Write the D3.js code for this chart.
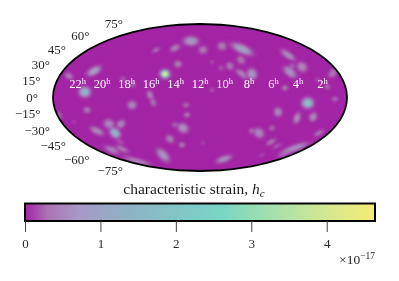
<!DOCTYPE html>
<html>
<head>
<meta charset="utf-8">
<script src="https://d3js.org/d3.v7.min.js"></script>
<style>
  html, body { margin: 0; padding: 0; background: #fff; }
  text { font-family: "Liberation Serif", serif; }
</style>
</head>
<body>
<div id="chart"></div>
<script>
// sources on the sky: right ascension (hours), declination (deg), peak strain (1e-17)
var blobRa = [13.15, 14.76, 16.71, 14.02, 15.02, 21.27, 23.19, 21.43, 18.49, 17.55, 16.08, 15.84, 17.58, 21.36, 13.15, 13.09, 13.52, 14.2, 14.97, 13.93, 16.85, 23.85, 22.9, 19.96, 18.91, 21.45, 19.92, 20.2, 22.26, 20.91, 22.2, 11.68, 9.49, 7.43, 8.11, 10.88, 10.13, 9.29, 8.38, 7.52, 3.2, 2.85, 3.68, 4.17, 5.0, 0.5, 2.1, 1.5, 3.18, 11.02, 0.98, 5.5, 3.75, 2.42, 7.23, 6.5, 5.54, 4.72, 3.63, 0.91, 1.33, 1.43, 3.87, 8.42, 11.69];
var blobDec = [60.6, 51.9, 49.6, 34, 23.6, 26.7, 21.5, 5.5, 18.5, 12.5, 2.5, -4.5, -7.5, -12.5, -7.5, -17.5, -30.9, -27.5, -42.7, -49.6, -62, -17.5, -24.6, -26.7, -26.7, -34, -36.2, -46.1, -55.5, -54.3, -70.3, 49.6, 54.3, 50.8, 38.3, 36.2, 29.8, 31.9, 23.6, 23.6, 43.8, 30.9, 31.9, 25.6, 9.5, 24.6, 17.5, 10.5, -5.5, 7.5, -1.5, -14.5, -20.5, -19.5, -34, -36.2, -30.9, -46.1, -50.8, -36.2, -53.1, -59.3, -62, -67.4, -47.2];
var blobStrain = [0.8, 0.45, 0.3, 0.4, 4.6, 1.0, 0.4, 1.6, 0.2, 0.25, 0.45, 0.4, 0.55, 0.4, 0.3, 0.4, 0.7, 0.3, 0.45, 0.4, 0.7, 0.3, 0.15, 0.55, 0.55, 0.55, 1.7, 0.2, 0.45, 0.4, 0.5, 0.4, 0.45, 1.0, 0.4, 0.2, 0.2, 0.4, 0.45, 0.8, 0.6, 0.55, 0.3, 0.7, 0.4, 0.4, 0.15, 0.3, 2.1, 0.2, 0.3, 0.55, 0.6, 0.6, 0.4, 0.55, 0.3, 0.4, 0.2, 0.4, 0.6, 0.45, 0.15, 0.6, 0.15];
// angular size of each source, degrees along its long and short axis, and tilt on the map
var blobMajor = [8, 6, 5, 4.5, 5, 8, 5, 6, 3.5, 3.5, 5, 5, 5, 4, 3.5, 3.5, 6, 3.5, 5, 3.5, 9, 4, 2.5, 6, 5, 8, 6, 5, 9, 8, 15, 5, 5, 12, 5, 2.5, 3.5, 4.5, 8, 6, 9, 6, 3.5, 8, 3.5, 6, 3.5, 3.5, 6, 3, 3.5, 5, 6, 5, 3.5, 6, 3.5, 6, 6, 6, 15, 8, 4, 9, 3];
var blobMinor = [5, 3.5, 2.5, 4, 4.5, 4, 3.5, 5.5, 3, 3, 3.5, 3, 4.5, 3.5, 3, 3, 5, 3, 4, 3, 4.5, 3, 2, 5, 4, 3.5, 4.5, 2.5, 3.5, 3, 3, 4.5, 4.5, 4.5, 4, 2, 3, 4, 3.5, 5, 3.5, 5, 3, 4.5, 3, 4, 3, 3, 5.5, 2.5, 3, 4.5, 3.5, 4, 3, 5, 3, 2.5, 2.5, 2.5, 3.5, 3, 2, 3.5, 2];
var blobTilt = [0, -30, -25, 0, 0, -30, 30, 0, 0, 0, 70, 70, 0, 0, 0, 0, 30, 0, 40, 0, 45, 60, 30, 20, -40, 25, 40, 30, 25, 25, 15, 0, 20, 25, 40, 0, 30, 50, 35, 70, 35, 40, 0, 40, 0, -50, 0, 0, 0, 0, 0, 80, -70, -60, 0, 40, 0, -30, -25, -30, -20, -30, -20, -20, 0];

// tick labels
var latTicks = [75, 60, 45, 30, 15, 0, -15, -30, -45, -60, -75];
var raTicks = [22, 20, 18, 16, 14, 12, 10, 8, 6, 4, 2];
var cbarTicks = [0, 1, 2, 3, 4];
var cbarMax = 4.64;

// colormap, stops in strain units
var cmapStops = [0, 0.3, 0.7, 1.3, 2, 2.6, 3.2, 4, 4.64];
var cmapColors = ["#a325a5", "#ab74b4", "#a898c8", "#8fb1c4", "#83c5c6", "#78d6c4", "#a0dfb0", "#d6e891", "#f4ec73"];

var width = 399, height = 281;
var svg = d3.select("#chart").append("svg")
    .attr("width", width)
    .attr("height", height)
    .style("display", "block");
var defs = svg.append("defs");

var color = d3.scaleLinear().domain(cmapStops).range(cmapColors);

// mollweide raw projection, d3-geo has no built in one
function mollweideRaw(lambda, phi) {
  var theta = phi, k = Math.PI * Math.sin(phi);
  for (var i = 0; i < 30; i++) {
    var d = (theta + Math.sin(theta) - k) / (1 + Math.cos(theta));
    theta -= d;
    if (Math.abs(d) < 1e-7) break;
  }
  theta /= 2;
  return [2 * Math.SQRT2 / Math.PI * lambda * Math.cos(theta), Math.SQRT2 * Math.sin(theta)];
}

var cx = 200, cy = 97.5, rx = 147;
var projection = d3.geoProjection(mollweideRaw)
    .scale(rx / (2 * Math.SQRT2))
    .translate([cx, cy])
    .precision(0.3);
var path = d3.geoPath(projection);
var sphere = {type: "Sphere"};

// right ascension runs right to left with 12h in the middle
function lonOf(ra) { return 12 * 15 - ra * 15; }
var pxPerDeg = rx / 180;

defs.append("clipPath").attr("id", "sky")
  .append("path").attr("d", path(sphere));

var soft = defs.append("filter").attr("id", "soft")
    .attr("x", "-5%").attr("y", "-5%").attr("width", "110%").attr("height", "110%");
soft.append("feGaussianBlur").attr("stdDeviation", 0.8);

var map = svg.append("g");
map.append("path")
    .attr("d", path(sphere))
    .attr("fill", color(0));

var falloff = d3.range(0, 1.01, 0.125);
var blobs = d3.range(blobRa.length).map(function(i) {
  var p = projection([lonOf(blobRa[i]), blobDec[i]]);
  return {x: p[0], y: p[1], v: blobStrain[i], a: blobMajor[i], b: blobMinor[i], tilt: blobTilt[i]};
}).sort(function(a, b) { return a.v - b.v; });

blobs.forEach(function(d, i) {
  var g = defs.append("radialGradient").attr("id", "blob" + i);
  falloff.forEach(function(t) {
    var f = Math.exp(-t * t * 4) - Math.exp(-4);
    g.append("stop")
      .attr("offset", t)
      .attr("stop-color", color(d.v * f))
      .attr("stop-opacity", Math.min(1, f * 1.6));
  });
});

map.append("g").attr("clip-path", "url(#sky)")
  .append("g").attr("filter", "url(#soft)")
  .selectAll("ellipse")
  .data(blobs)
  .enter().append("ellipse")
    .attr("rx", function(d) { return d.a * pxPerDeg * 2.3; })
    .attr("ry", function(d) { return d.b * pxPerDeg * 2.3; })
    .attr("transform", function(d) { return "translate(" + d.x + "," + d.y + ") rotate(" + d.tilt + ")"; })
    .attr("fill", function(d, i) { return "url(#blob" + i + ")"; });

map.append("path")
    .attr("d", path(sphere))
    .attr("fill", "none")
    .attr("stroke", "#000")
    .attr("stroke-width", 1.8);

// hour labels sit a bit above the equator
var raLabels = svg.selectAll(".ra")
    .data(raTicks)
  .enter().append("text")
    .attr("class", "ra")
    .attr("x", function(d) { return projection([lonOf(d), 0])[0]; })
    .attr("y", 88)
    .attr("text-anchor", "middle")
    .attr("fill", "#fff")
    .attr("font-size", 12.5);
raLabels.append("tspan").text(function(d) { return d; });
raLabels.append("tspan").attr("dy", -4).attr("font-size", 8.5).text("h");

// latitude labels follow the left edge
var latBase = d3.scaleLinear().domain([0, 15, 30, 45, 60, 75]).range([101.5, 84.5, 68.5, 53.5, 39.5, 27.5]);
var latEnd = d3.scaleLinear().domain([0, 15, 30, 45, 60, 75]).range([38, 40.5, 50, 66, 89.5, 123]);
var latBaseSouth = d3.scaleLinear().domain([-15, -30, -45, -60, -75]).range([117.5, 134.5, 149.5, 163.5, 174.5]);

svg.selectAll(".lat")
    .data(latTicks)
  .enter().append("text")
    .attr("class", "lat")
    .attr("x", function(d) { return latEnd(Math.abs(d)); })
    .attr("y", function(d) { return d < 0 ? latBaseSouth(d) : latBase(d); })
    .attr("text-anchor", "end")
    .attr("fill", "#262626")
    .attr("font-size", 13)
    .text(function(d) { return (d < 0 ? "\u2212" + (-d) : d) + "\u00b0"; });

// colorbar
var cbarX = d3.scaleLinear().domain([0, cbarMax]).range([25, 375]);
var cbarTop = 203.5, cbarBottom = 221;
var cbar = svg.append("g");
cbar.selectAll("rect")
    .data(d3.range(0, 350).map(function(i) { return cbarMax * i / 350; }))
  .enter().append("rect")
    .attr("x", function(d) { return cbarX(d); })
    .attr("y", cbarTop)
    .attr("width", 1.5)
    .attr("height", cbarBottom - cbarTop)
    .attr("fill", function(d) { return color(d); });
cbar.append("rect")
    .attr("x", 25).attr("y", cbarTop)
    .attr("width", 350).attr("height", cbarBottom - cbarTop)
    .attr("fill", "none")
    .attr("stroke", "#000")
    .attr("stroke-width", 2);

var axis = d3.axisBottom(cbarX).tickValues(cbarTicks).tickFormat(d3.format("d")).tickSize(11).tickPadding(7);
var axisG = svg.append("g")
    .attr("transform", "translate(0," + cbarBottom + ")")
    .call(axis);
axisG.select(".domain").remove();
axisG.selectAll("line").attr("stroke", "#444").attr("stroke-width", 1);
axisG.selectAll("text")
    .attr("font-size", 13)
    .attr("fill", "#262626");

var title = svg.append("text")
    .attr("x", 194).attr("y", 194)
    .attr("text-anchor", "middle")
    .attr("font-size", 15.5)
    .attr("fill", "#1a1a1a");
title.append("tspan").text("characteristic strain, ");
title.append("tspan").attr("font-style", "italic").text("h");
title.append("tspan").attr("font-style", "italic").attr("font-size", 11).attr("dy", 3).text("c");

var scaleLabel = svg.append("text")
    .attr("x", 375).attr("y", 264)
    .attr("text-anchor", "end")
    .attr("font-size", 13.5)
    .attr("fill", "#262626");
scaleLabel.append("tspan").text("\u00d710");
scaleLabel.append("tspan").attr("font-size", 9.5).attr("dy", -5).text("\u221217");
</script>
</body>
</html>
